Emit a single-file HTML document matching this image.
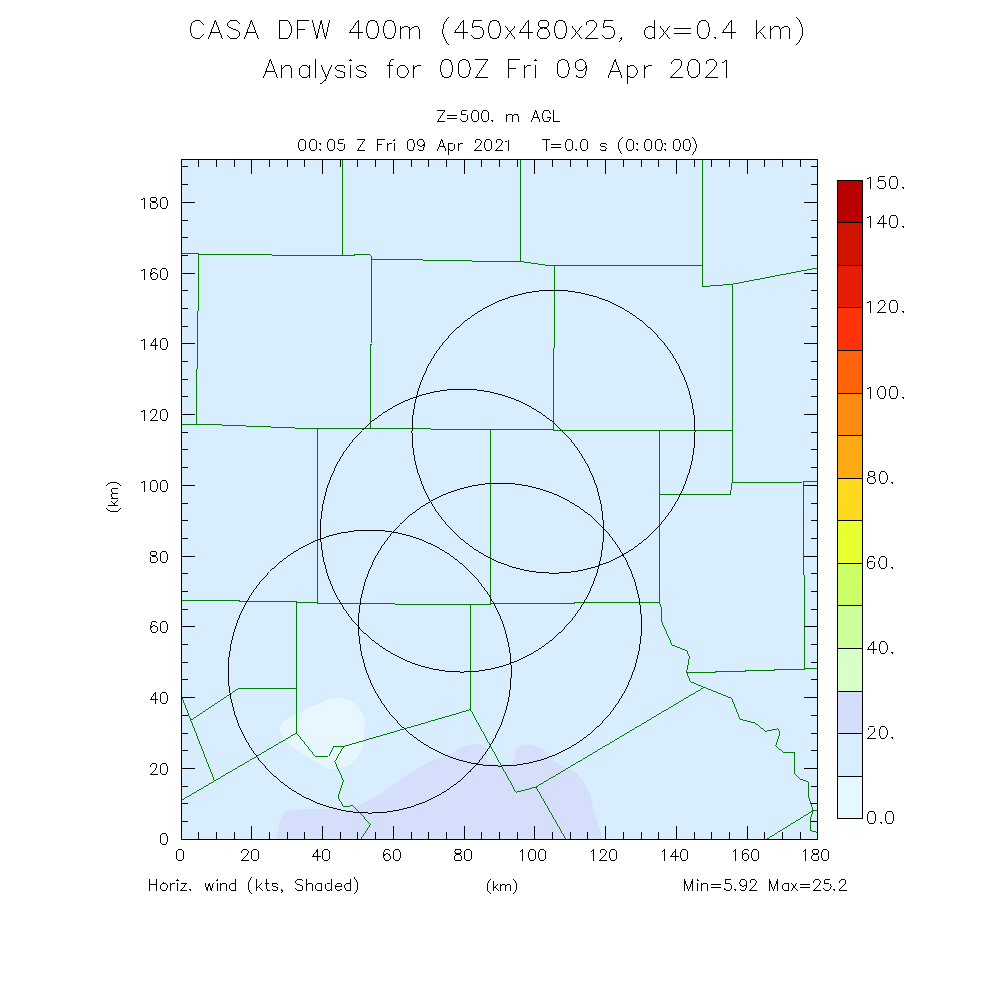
<!DOCTYPE html>
<html><head><meta charset="utf-8"><title>CASA DFW 400m</title>
<style>html,body{margin:0;padding:0;background:#fff;font-family:"Liberation Sans",sans-serif}svg{display:block}</style></head>
<body>
<svg width="1000" height="1000" viewBox="0 0 1000 1000" shape-rendering="crispEdges">
<rect width="1000" height="1000" fill="#fff"/>
<defs><clipPath id="pc"><rect x="182" y="160" width="635" height="679"/></clipPath></defs>
<rect x="182" y="160" width="635" height="679" fill="#D8EEFF"/>
<g clip-path="url(#pc)">
<path d="M276 840 L280 820 L285 811 L314 808.5 L350 810 L379 795 L404 777 L429 762 L450.8 753.4 L463.4 747 L476 743.5 L485 745.3 L487 751.6 L486.4 758.8 L488.6 763.3 L500 765.5 L512 764 L514.7 757 L515.6 749.8 L521 745.3 L530 744.4 L540.8 748 L549.8 754.3 L555 761.5 L566 767.8 L576.8 773.2 L584 782 L589.4 793 L593 807.4 L598.4 825.4 L603 840Z" fill="#D5DFFC"/>
<path d="M279.2 729.2 L282.2 722 L296 714.2 L314 705.8 L327.2 699.2 L338 697.8 L348.8 699.2 L358.4 706.4 L363.8 716 L365 728 L363.2 743.6 L359.6 754.4 L351.2 764 L339.2 768.8 L329.6 769.4 L320 764 L308 756.8 L296 749.6 L287.6 742.4 L281.6 735.2Z" fill="#E6F7FF"/>
<path d="M342.5 159.55 L342.5 255.45M181.05 253.5 L199 253.5 L199 254.5 L272 254.5 L272 255.5 L354 255.5 L354 254.5 L370 254.5 L371.5 256 L372 259.5 L423 259.5 L423 260.5 L472 260.5 L472 261.5 L520.6 261.5 L549 265.5 L702.85 265.5M198.6 253.35 L198.6 310 L197.6 311 L197.6 368 L196.6 369 L196.6 424.85M371.6 258.55 L371.6 343 L370.5 344 L370.5 428.85M520.5 159.55 L520.5 261.85M554.5 264.95 L554.5 347 L553.5 348 L553.5 429.85M702.5 159.55 L702.5 286.5 L732.4 284.2 L817.44 267.92M732.5 283.55 L732.5 482.85M181.05 424.5 L222 424.5 L222 425.5 L246 425.5 L246 426.5 L271 426.5 L271 427.5 L295 427.5 L295 428.5 L431 428.5 L431 429.5 L553.6 429.5 L553.6 430.5 L732.85 430.5M317.5 427.95 L317.5 602.85M490.5 428.95 L490.5 603.85M659.5 429.95 L659.5 602.85M731.95 482.5 L802.4 482.5 L803 481.5 L817.45 481.5M732.7 482.07 L731.5 483.4 L731.5 489.4 L730.5 490.4 L730.5 494 L729.6 494.5 L659.15 494.5M803.5 480.95 L803.5 575 L804.5 576 L804.5 669.45M181.05 600.5 L239.6 600.5 L239.6 601.5 L296.6 601.5 L296.6 602.5 L317.4 602.5 L317.4 603.5 L395 603.5 L395 604.5 L490 604.5 L490 603.5 L574 603.5 L574 602.5 L660.05 602.5M296.5 600.95 L296.5 733.45M297.05 688.5 L238.4 688.5 L190.63 720.25M181.84 697.18 L214.16 780.02M296.99 732.77 L181.61 800.23M296.32 732.65 L315.2 756.3 L328.4 756.3 L333.4 746.5 L343.6 746.5 L470.83 709.57M343.83 746.11 L334.8 761.6 L343.5 781 L338 797 L343.6 807 L353 805.6 L370.4 824.4 L360.76 839.38M470.5 603.95 L470.5 709.7 L516 792.4 L536 787 L704.39 687.17M535.78 786.61 L565.82 839.39M659.46 601.97 L661.4 608 L661.4 621 L672 645 L687 651 L689.4 657.4 L686.6 672 L690.4 681.6 L704 687.4 L731.6 698.4 L740 719.4 L755 723 L765.6 731.4 L777.6 728.8 L780 732.4 L775.6 746.2 L783.6 752.4 L795 752.2 L794.6 773.4 L800 779 L808.4 782 L808.4 796 L813 810 L817.44 811.11M686.15 672.5 L715 672.5 L715 671.5 L745 671.5 L745 670.5 L774 670.5 L774 669.5 L804 669.5 L804 668.5 L817.45 668.5M813.98 810.16 L766.62 839.24M813.12 810.07 L810 821 L810.4 830.4 L817.43 832.53" fill="none" stroke="#007800" stroke-width="0.99"/>
<ellipse cx="553.5" cy="431.7" rx="141.54" ry="141.51" fill="none" stroke="#000" stroke-width="0.99"/>
<ellipse cx="462" cy="530.6" rx="141.54" ry="141.51" fill="none" stroke="#000" stroke-width="0.99"/>
<ellipse cx="500" cy="624.6" rx="141.54" ry="141.51" fill="none" stroke="#000" stroke-width="0.99"/>
<ellipse cx="369.8" cy="671.6" rx="141.54" ry="141.51" fill="none" stroke="#000" stroke-width="0.99"/>
</g>
<g fill="#000">
<rect x="181" y="159" width="637" height="1"/><rect x="181" y="839" width="637" height="1"/><rect x="181" y="159" width="1" height="681"/><rect x="817" y="159" width="1" height="681"/>
<rect x="198" y="160" width="1" height="7"/><rect x="198" y="832" width="1" height="7"/><rect x="216" y="160" width="1" height="7"/><rect x="216" y="832" width="1" height="7"/><rect x="234" y="160" width="1" height="7"/><rect x="234" y="832" width="1" height="7"/><rect x="251" y="160" width="1" height="14"/><rect x="251" y="826" width="1" height="13"/><rect x="269" y="160" width="1" height="7"/><rect x="269" y="832" width="1" height="7"/><rect x="287" y="160" width="1" height="7"/><rect x="287" y="832" width="1" height="7"/><rect x="304" y="160" width="1" height="7"/><rect x="304" y="832" width="1" height="7"/><rect x="322" y="160" width="1" height="14"/><rect x="322" y="826" width="1" height="13"/><rect x="340" y="160" width="1" height="7"/><rect x="340" y="832" width="1" height="7"/><rect x="357" y="160" width="1" height="7"/><rect x="357" y="832" width="1" height="7"/><rect x="375" y="160" width="1" height="7"/><rect x="375" y="832" width="1" height="7"/><rect x="393" y="160" width="1" height="14"/><rect x="393" y="826" width="1" height="13"/><rect x="411" y="160" width="1" height="7"/><rect x="411" y="832" width="1" height="7"/><rect x="428" y="160" width="1" height="7"/><rect x="428" y="832" width="1" height="7"/><rect x="446" y="160" width="1" height="7"/><rect x="446" y="832" width="1" height="7"/><rect x="464" y="160" width="1" height="14"/><rect x="464" y="826" width="1" height="13"/><rect x="481" y="160" width="1" height="7"/><rect x="481" y="832" width="1" height="7"/><rect x="499" y="160" width="1" height="7"/><rect x="499" y="832" width="1" height="7"/><rect x="517" y="160" width="1" height="7"/><rect x="517" y="832" width="1" height="7"/><rect x="534" y="160" width="1" height="14"/><rect x="534" y="826" width="1" height="13"/><rect x="552" y="160" width="1" height="7"/><rect x="552" y="832" width="1" height="7"/><rect x="570" y="160" width="1" height="7"/><rect x="570" y="832" width="1" height="7"/><rect x="587" y="160" width="1" height="7"/><rect x="587" y="832" width="1" height="7"/><rect x="605" y="160" width="1" height="14"/><rect x="605" y="826" width="1" height="13"/><rect x="623" y="160" width="1" height="7"/><rect x="623" y="832" width="1" height="7"/><rect x="641" y="160" width="1" height="7"/><rect x="641" y="832" width="1" height="7"/><rect x="658" y="160" width="1" height="7"/><rect x="658" y="832" width="1" height="7"/><rect x="676" y="160" width="1" height="14"/><rect x="676" y="826" width="1" height="13"/><rect x="694" y="160" width="1" height="7"/><rect x="694" y="832" width="1" height="7"/><rect x="711" y="160" width="1" height="7"/><rect x="711" y="832" width="1" height="7"/><rect x="729" y="160" width="1" height="7"/><rect x="729" y="832" width="1" height="7"/><rect x="747" y="160" width="1" height="14"/><rect x="747" y="826" width="1" height="13"/><rect x="764" y="160" width="1" height="7"/><rect x="764" y="832" width="1" height="7"/><rect x="782" y="160" width="1" height="7"/><rect x="782" y="832" width="1" height="7"/><rect x="800" y="160" width="1" height="7"/><rect x="800" y="832" width="1" height="7"/><rect x="182" y="821" width="6" height="1"/><rect x="811" y="821" width="6" height="1"/><rect x="182" y="803" width="6" height="1"/><rect x="811" y="803" width="6" height="1"/><rect x="182" y="786" width="6" height="1"/><rect x="811" y="786" width="6" height="1"/><rect x="182" y="768" width="13" height="1"/><rect x="804" y="768" width="13" height="1"/><rect x="182" y="750" width="6" height="1"/><rect x="811" y="750" width="6" height="1"/><rect x="182" y="733" width="6" height="1"/><rect x="811" y="733" width="6" height="1"/><rect x="182" y="715" width="6" height="1"/><rect x="811" y="715" width="6" height="1"/><rect x="182" y="697" width="13" height="1"/><rect x="804" y="697" width="13" height="1"/><rect x="182" y="679" width="6" height="1"/><rect x="811" y="679" width="6" height="1"/><rect x="182" y="662" width="6" height="1"/><rect x="811" y="662" width="6" height="1"/><rect x="182" y="644" width="6" height="1"/><rect x="811" y="644" width="6" height="1"/><rect x="182" y="626" width="13" height="1"/><rect x="804" y="626" width="13" height="1"/><rect x="182" y="609" width="6" height="1"/><rect x="811" y="609" width="6" height="1"/><rect x="182" y="591" width="6" height="1"/><rect x="811" y="591" width="6" height="1"/><rect x="182" y="573" width="6" height="1"/><rect x="811" y="573" width="6" height="1"/><rect x="182" y="556" width="13" height="1"/><rect x="804" y="556" width="13" height="1"/><rect x="182" y="538" width="6" height="1"/><rect x="811" y="538" width="6" height="1"/><rect x="182" y="520" width="6" height="1"/><rect x="811" y="520" width="6" height="1"/><rect x="182" y="503" width="6" height="1"/><rect x="811" y="503" width="6" height="1"/><rect x="182" y="485" width="13" height="1"/><rect x="804" y="485" width="13" height="1"/><rect x="182" y="467" width="6" height="1"/><rect x="811" y="467" width="6" height="1"/><rect x="182" y="449" width="6" height="1"/><rect x="811" y="449" width="6" height="1"/><rect x="182" y="432" width="6" height="1"/><rect x="811" y="432" width="6" height="1"/><rect x="182" y="414" width="13" height="1"/><rect x="804" y="414" width="13" height="1"/><rect x="182" y="396" width="6" height="1"/><rect x="811" y="396" width="6" height="1"/><rect x="182" y="379" width="6" height="1"/><rect x="811" y="379" width="6" height="1"/><rect x="182" y="361" width="6" height="1"/><rect x="811" y="361" width="6" height="1"/><rect x="182" y="343" width="13" height="1"/><rect x="804" y="343" width="13" height="1"/><rect x="182" y="326" width="6" height="1"/><rect x="811" y="326" width="6" height="1"/><rect x="182" y="308" width="6" height="1"/><rect x="811" y="308" width="6" height="1"/><rect x="182" y="290" width="6" height="1"/><rect x="811" y="290" width="6" height="1"/><rect x="182" y="273" width="13" height="1"/><rect x="804" y="273" width="13" height="1"/><rect x="182" y="255" width="6" height="1"/><rect x="811" y="255" width="6" height="1"/><rect x="182" y="237" width="6" height="1"/><rect x="811" y="237" width="6" height="1"/><rect x="182" y="220" width="6" height="1"/><rect x="811" y="220" width="6" height="1"/><rect x="182" y="202" width="13" height="1"/><rect x="804" y="202" width="13" height="1"/><rect x="182" y="184" width="6" height="1"/><rect x="811" y="184" width="6" height="1"/><rect x="182" y="166" width="6" height="1"/><rect x="811" y="166" width="6" height="1"/>
</g>
<rect x="838" y="181" width="24" height="41" fill="#B80000"/><rect x="838" y="223" width="24" height="42" fill="#D01400"/><rect x="838" y="266" width="24" height="41" fill="#E61E08"/><rect x="838" y="308" width="24" height="42" fill="#FF320A"/><rect x="838" y="351" width="24" height="42" fill="#FF640A"/><rect x="838" y="394" width="24" height="41" fill="#FF8C10"/><rect x="838" y="436" width="24" height="42" fill="#FFAA14"/><rect x="838" y="479" width="24" height="41" fill="#FFD820"/><rect x="838" y="521" width="24" height="42" fill="#E8FF32"/><rect x="838" y="564" width="24" height="41" fill="#CCFF66"/><rect x="838" y="606" width="24" height="42" fill="#CCFF99"/><rect x="838" y="649" width="24" height="42" fill="#D8FFC8"/><rect x="838" y="692" width="24" height="41" fill="#D4DEFC"/><rect x="838" y="734" width="24" height="42" fill="#D8EEFF"/><rect x="838" y="777" width="24" height="41" fill="#E6F8FF"/>
<g fill="#000"><rect x="837" y="180" width="26" height="1"/><rect x="837" y="222" width="26" height="1"/><rect x="837" y="265" width="26" height="1"/><rect x="837" y="307" width="26" height="1"/><rect x="837" y="350" width="26" height="1"/><rect x="837" y="393" width="26" height="1"/><rect x="837" y="435" width="26" height="1"/><rect x="837" y="478" width="26" height="1"/><rect x="837" y="520" width="26" height="1"/><rect x="837" y="563" width="26" height="1"/><rect x="837" y="605" width="26" height="1"/><rect x="837" y="648" width="26" height="1"/><rect x="837" y="691" width="26" height="1"/><rect x="837" y="733" width="26" height="1"/><rect x="837" y="776" width="26" height="1"/><rect x="837" y="818" width="26" height="1"/><rect x="837" y="180" width="1" height="639"/><rect x="862" y="180" width="1" height="639"/></g>
<path d="M203.56 25.19 L202.5 23.07 L200.79 21.36 L199.07 20.5 L195.64 20.5 L193.93 21.36 L192.21 23.07 L191.36 24.79 L190.5 27.36 L190.5 31.64 L191.36 34.21 L192.21 35.93 L193.93 37.64 L195.64 38.5 L199.07 38.5 L200.79 37.64 L202.5 35.93 L203.56 33.81M215.52 20.08 L208.34 38.92M215.2 20.08 L222.37 38.92M210.62 32.5 L220.09 32.5M239.82 23.39 L237.79 21.36 L235.21 20.5 L231.79 20.5 L229.21 21.36 L227.5 23.07 L227.5 24.79 L228.36 26.5 L229.21 27.36 L230.93 28.21 L236.07 29.93 L237.79 30.79 L238.64 31.64 L239.5 33.36 L239.5 35.93 L237.79 37.64 L235.21 38.5 L231.79 38.5 L229.21 37.64 L227.18 35.61M251.52 20.08 L244.34 38.92M251.2 20.08 L258.37 38.92M246.62 32.5 L256.09 32.5M279.5 20.05 L279.5 38.95M279.05 20.5 L285.5 20.5 L288.07 21.36 L289.79 23.07 L290.64 24.79 L291.5 27.36 L291.5 31.64 L290.64 34.21 L289.79 35.93 L288.07 37.64 L285.5 38.5 L279.05 38.5M297.5 20.05 L297.5 38.95M297.05 20.5 L309.09 20.5M297.05 29.07 L304.81 29.07M312.4 20.06 L316.89 38.94M321.18 20.06 L316.68 38.94M320.97 20.06 L325.46 38.94M329.75 20.06 L325.25 38.94M358.33 20.13 L349.5 32.5 L362.81 32.5M358.07 20.05 L358.07 38.95M372.07 20.36 L369.07 21.36 L367.36 23.93 L366.5 28.21 L366.5 30.79 L367.36 35.07 L369.07 37.64 L371.64 38.5 L373.36 38.5 L375.93 37.64 L377.64 35.07 L378.5 30.79 L378.5 28.21 L377.64 23.93 L375.93 21.36 L373.36 20.5 L371.19 20.5M389.07 20.36 L386.07 21.36 L384.36 23.93 L383.5 28.21 L383.5 30.79 L384.36 35.07 L386.07 37.64 L388.64 38.5 L390.36 38.5 L392.93 37.64 L394.64 35.07 L395.5 30.79 L395.5 28.21 L394.64 23.93 L392.93 21.36 L390.36 20.5 L388.19 20.5M400.5 26.05 L400.5 38.95M400.18 30.25 L403.07 27.36 L404.79 26.5 L407.36 26.5 L409.07 27.36 L409.93 29.93 L409.93 38.95M409.61 30.25 L412.5 27.36 L414.21 26.5 L416.79 26.5 L418.5 27.36 L419.36 29.93 L419.36 38.95M449.22 16.75 L447.19 18.79 L445.47 21.36 L443.76 24.79 L442.9 29.07 L442.9 32.5 L443.76 36.79 L445.47 40.21 L447.19 42.79 L449.22 44.82M463.33 20.13 L454.5 32.5 L467.81 32.5M463.07 20.05 L463.07 38.95M482.24 20.5 L473.21 20.5 L472.36 28.21 L473.21 27.36 L475.79 26.5 L478.36 26.5 L480.93 27.36 L482.64 29.07 L483.5 31.64 L483.5 33.36 L482.64 35.93 L480.93 37.64 L478.36 38.5 L475.79 38.5 L473.21 37.64 L472.36 36.79 L471.3 34.67M494.07 20.36 L491.07 21.36 L489.36 23.93 L488.5 28.21 L488.5 30.79 L489.36 35.07 L491.07 37.64 L493.64 38.5 L495.36 38.5 L497.93 37.64 L499.64 35.07 L500.5 30.79 L500.5 28.21 L499.64 23.93 L497.93 21.36 L495.36 20.5 L493.19 20.5M505.22 26.15 L515.21 38.85M515.21 26.15 L505.22 38.85M528.33 20.13 L519.5 32.5 L532.81 32.5M528.07 20.05 L528.07 38.95M542.21 20.36 L539.21 21.36 L538.36 23.07 L538.36 24.79 L539.21 26.5 L540.93 27.36 L544.36 28.21 L546.93 29.07 L548.64 30.79 L549.5 32.5 L549.5 35.07 L548.64 36.79 L547.79 37.64 L545.21 38.5 L541.79 38.5 L539.21 37.64 L538.36 36.79 L537.5 35.07 L537.5 32.5 L538.36 30.79 L540.07 29.07 L542.64 28.21 L546.07 27.36 L547.79 26.5 L548.64 24.79 L548.64 23.07 L547.79 21.36 L545.21 20.5 L541.34 20.5M560.07 20.36 L557.07 21.36 L555.36 23.93 L554.5 28.21 L554.5 30.79 L555.36 35.07 L557.07 37.64 L559.64 38.5 L561.36 38.5 L563.93 37.64 L565.64 35.07 L566.5 30.79 L566.5 28.21 L565.64 23.93 L563.93 21.36 L561.36 20.5 L559.19 20.5M571.72 26.15 L581.71 38.85M581.71 26.15 L571.72 38.85M586.16 25.24 L586.16 23.93 L587.01 22.21 L587.87 21.36 L589.59 20.5 L593.01 20.5 L594.73 21.36 L595.59 22.21 L596.44 23.93 L596.44 25.64 L595.59 27.36 L593.87 29.93 L585.3 38.5 L597.75 38.5M613.24 20.5 L604.21 20.5 L603.36 28.21 L604.21 27.36 L606.79 26.5 L609.36 26.5 L611.93 27.36 L613.64 29.07 L614.5 31.64 L614.5 33.36 L613.64 35.93 L611.93 37.64 L609.36 38.5 L606.79 38.5 L604.21 37.64 L603.36 36.79 L602.3 34.67M621.53 37.32 L620.36 38.5 L619.5 37.64 L620.36 36.79 L621.21 37.64 L621.21 39.36 L620.36 41.07 L619.18 42.25M654.79 20.05 L654.79 38.95M655.1 29.39 L653.07 27.36 L651.36 26.5 L648.79 26.5 L647.07 27.36 L645.36 29.07 L644.5 31.64 L644.5 33.36 L645.36 35.93 L647.07 37.64 L648.79 38.5 L651.36 38.5 L653.07 37.64 L655.1 35.61M659.72 26.15 L669.71 38.85M669.71 26.15 L659.72 38.85M674.45 28.21 L690.78 28.21M674.45 33.36 L690.78 33.36M702.87 20.36 L699.87 21.36 L698.16 23.93 L697.3 28.21 L697.3 30.79 L698.16 35.07 L699.87 37.64 L702.44 38.5 L704.16 38.5 L706.73 37.64 L708.44 35.07 L709.3 30.79 L709.3 28.21 L708.44 23.93 L706.73 21.36 L704.16 20.5 L701.99 20.5M731.33 20.13 L722.5 32.5 L735.81 32.5M731.07 20.05 L731.07 38.95M756.2 20.05 L756.2 38.95M765.09 26.18 L755.88 35.39M759.33 31.3 L765.92 38.84M770.9 26.05 L770.9 38.95M770.58 30.25 L773.47 27.36 L775.19 26.5 L777.76 26.5 L779.47 27.36 L780.33 29.93 L780.33 38.95M780.01 30.25 L782.9 27.36 L784.61 26.5 L787.19 26.5 L788.9 27.36 L789.76 29.93 L789.76 38.95M796.18 16.75 L798.21 18.79 L799.93 21.36 L801.64 24.79 L802.5 29.07 L802.5 32.5 L801.64 36.79 L799.93 40.21 L798.21 42.79 L796.18 44.82M270.52 59.08 L263.34 77.92M270.2 59.08 L277.37 77.92M265.62 71.5 L275.09 71.5M281.9 65.05 L281.9 77.95M281.58 69.25 L284.47 66.36 L286.19 65.5 L288.76 65.5 L290.47 66.36 L291.33 68.93 L291.33 77.95M309.29 65.05 L309.29 77.95M309.6 68.39 L307.57 66.36 L305.86 65.5 L303.29 65.5 L301.57 66.36 L299.86 68.07 L299 70.64 L299 72.36 L299.86 74.93 L301.57 76.64 L303.29 77.5 L305.86 77.5 L307.57 76.64 L309.6 74.61M315 59.05 L315 77.95M320.98 65.09 L326.48 77.91M331.62 65.09 L326.3 77.5 L324.59 80.93 L322.87 82.64 L321.16 83.5 L319.85 83.5M345.13 68.47 L344.07 66.36 L341.5 65.5 L338.93 65.5 L336.36 66.36 L335.5 68.07 L336.36 69.79 L338.07 70.64 L342.36 71.5 L344.07 72.36 L344.93 74.07 L344.93 74.93 L344.07 76.64 L341.5 77.5 L338.93 77.5 L336.36 76.64 L335.3 74.53M348.94 60.36 L352.06 60.36M350.5 58.88 L350.5 60.81M350.5 65.05 L350.5 77.95M366.23 68.47 L365.17 66.36 L362.6 65.5 L360.03 65.5 L357.46 66.36 L356.6 68.07 L357.46 69.79 L359.17 70.64 L363.46 71.5 L365.17 72.36 L366.03 74.07 L366.03 74.93 L365.17 76.64 L362.6 77.5 L360.03 77.5 L357.46 76.64 L356.4 74.53M394.31 59.5 L392.14 59.5 L390.43 60.36 L389.57 62.93 L389.57 77.95M386.55 65.5 L393.45 65.5M401.79 65.3 L399.67 66.36 L397.96 68.07 L397.1 70.64 L397.1 72.36 L397.96 74.93 L399.67 76.64 L401.39 77.5 L403.96 77.5 L405.67 76.64 L407.39 74.93 L408.24 72.36 L408.24 70.64 L407.39 68.07 L405.67 66.36 L403.96 65.5 L400.94 65.5M413.3 65.05 L413.3 77.95M413.16 71.07 L414.16 68.07 L415.87 66.36 L417.59 65.5 L420.61 65.5M446.07 59.36 L443.07 60.36 L441.36 62.93 L440.5 67.21 L440.5 69.79 L441.36 74.07 L443.07 76.64 L445.64 77.5 L447.36 77.5 L449.93 76.64 L451.64 74.07 L452.5 69.79 L452.5 67.21 L451.64 62.93 L449.93 60.36 L447.36 59.5 L445.19 59.5M463.67 59.36 L460.67 60.36 L458.96 62.93 L458.1 67.21 L458.1 69.79 L458.96 74.07 L460.67 76.64 L463.24 77.5 L464.96 77.5 L467.53 76.64 L469.24 74.07 L470.1 69.79 L470.1 67.21 L469.24 62.93 L467.53 60.36 L464.96 59.5 L462.79 59.5M487.95 59.13 L475.45 77.87M475.25 59.5 L488.15 59.5M475.25 77.5 L488.15 77.5M508.5 59.05 L508.5 77.95M508.05 59.5 L520.09 59.5M508.05 68.07 L515.81 68.07M524 65.05 L524 77.95M523.86 71.07 L524.86 68.07 L526.57 66.36 L528.29 65.5 L531.31 65.5M533.94 60.36 L537.06 60.36M535.5 58.88 L535.5 60.81M535.5 65.05 L535.5 77.95M562.67 59.36 L559.67 60.36 L557.96 62.93 L557.1 67.21 L557.1 69.79 L557.96 74.07 L559.67 76.64 L562.24 77.5 L563.96 77.5 L566.53 76.64 L568.24 74.07 L569.1 69.79 L569.1 67.21 L568.24 62.93 L566.53 60.36 L563.96 59.5 L561.79 59.5M586.39 65.07 L585.39 68.07 L583.67 69.79 L581.1 70.64 L580.24 70.64 L577.67 69.79 L575.96 68.07 L575.1 65.5 L575.1 64.64 L575.96 62.07 L577.67 60.36 L580.24 59.5 L581.1 59.5 L583.67 60.36 L585.39 62.07 L586.24 65.5 L586.24 69.79 L585.39 74.07 L583.67 76.64 L581.1 77.5 L579.39 77.5 L576.81 76.64 L575.76 74.53M615.22 59.08 L608.04 77.92M614.9 59.08 L622.07 77.92M610.32 71.5 L619.79 71.5M627.1 65.05 L627.1 83.95M626.78 68.39 L628.81 66.36 L630.53 65.5 L633.1 65.5 L634.81 66.36 L636.53 68.07 L637.39 70.64 L637.39 72.36 L636.53 74.93 L634.81 76.64 L633.1 77.5 L630.53 77.5 L628.81 76.64 L626.78 74.61M644.4 65.05 L644.4 77.95M644.26 71.07 L645.26 68.07 L646.97 66.36 L648.69 65.5 L651.71 65.5M671.66 64.24 L671.66 62.93 L672.51 61.21 L673.37 60.36 L675.09 59.5 L678.51 59.5 L680.23 60.36 L681.09 61.21 L681.94 62.93 L681.94 64.64 L681.09 66.36 L679.37 68.93 L670.8 77.5 L683.25 77.5M693.37 59.36 L690.37 60.36 L688.66 62.93 L687.8 67.21 L687.8 69.79 L688.66 74.07 L690.37 76.64 L692.94 77.5 L694.66 77.5 L697.23 76.64 L698.94 74.07 L699.8 69.79 L699.8 67.21 L698.94 62.93 L697.23 60.36 L694.66 59.5 L692.49 59.5M706.16 64.24 L706.16 62.93 L707.01 61.21 L707.87 60.36 L709.59 59.5 L713.01 59.5 L714.73 60.36 L715.59 61.21 L716.44 62.93 L716.44 64.64 L715.59 66.36 L713.87 68.93 L705.3 77.5 L717.75 77.5M721.7 63.13 L723.81 62.07 L726.39 59.5 L726.39 77.95M445.08 110.13 L437.25 121.87M437.05 110.5 L445.28 110.5M437.05 121.5 L445.28 121.5M447.05 115.21 L457.38 115.21M447.05 118.36 L457.38 118.36M467.24 110.5 L461.55 110.5 L461.02 115.21 L461.55 114.69 L463.12 114.17 L464.69 114.17 L466.26 114.69 L467.31 115.74 L467.83 117.31 L467.83 118.36 L467.31 119.93 L466.26 120.98 L464.69 121.5 L463.12 121.5 L461.55 120.98 L461.02 120.45 L460.3 119M475.07 110.36 L473.07 111.02 L472.02 112.6 L471.5 115.21 L471.5 116.79 L472.02 119.4 L473.07 120.98 L474.64 121.5 L475.69 121.5 L477.26 120.98 L478.31 119.4 L478.83 116.79 L478.83 115.21 L478.31 112.6 L477.26 111.02 L475.69 110.5 L474.19 110.5M485.07 110.36 L483.07 111.02 L482.02 112.6 L481.5 115.21 L481.5 116.79 L482.02 119.4 L483.07 120.98 L484.64 121.5 L485.69 121.5 L487.26 120.98 L488.31 119.4 L488.83 116.79 L488.83 115.21 L488.31 112.6 L487.26 111.02 L485.69 110.5 L484.19 110.5M506.5 113.72 L506.5 121.95M506.18 116.58 L508.07 114.69 L509.12 114.17 L510.69 114.17 L511.74 114.69 L512.26 116.26 L512.26 121.95M511.94 116.58 L513.83 114.69 L514.88 114.17 L516.45 114.17 L517.5 114.69 L518.02 116.26 L518.02 121.95M535.85 110.08 L531.34 121.92M535.53 110.08 L540.04 121.92M532.62 117.83 L538.76 117.83M550.36 113.52 L549.63 112.07 L548.59 111.02 L547.54 110.5 L545.44 110.5 L544.4 111.02 L543.35 112.07 L542.82 113.12 L542.3 114.69 L542.3 117.31 L542.82 118.88 L543.35 119.93 L544.4 120.98 L545.44 121.5 L547.54 121.5 L548.59 120.98 L549.63 119.93 L550.16 118.88 L550.16 116.86M547.09 117.31 L550.61 117.31M553.5 110.05 L553.5 121.95M553.05 121.5 L560.24 121.5M302.07 139.36 L300.07 140.02 L299.02 141.6 L298.5 144.21 L298.5 145.79 L299.02 148.4 L300.07 149.98 L301.64 150.5 L302.69 150.5 L304.26 149.98 L305.31 148.4 L305.83 145.79 L305.83 144.21 L305.31 141.6 L304.26 140.02 L302.69 139.5 L301.19 139.5M313.07 139.36 L311.07 140.02 L310.02 141.6 L309.5 144.21 L309.5 145.79 L310.02 148.4 L311.07 149.98 L312.64 150.5 L313.69 150.5 L315.26 149.98 L316.31 148.4 L316.83 145.79 L316.83 144.21 L316.31 141.6 L315.26 140.02 L313.69 139.5 L312.19 139.5M331.07 139.36 L329.07 140.02 L328.02 141.6 L327.5 144.21 L327.5 145.79 L328.02 148.4 L329.07 149.98 L330.64 150.5 L331.69 150.5 L333.26 149.98 L334.31 148.4 L334.83 145.79 L334.83 144.21 L334.31 141.6 L333.26 140.02 L331.69 139.5 L330.19 139.5M344.24 139.5 L338.55 139.5 L338.02 144.21 L338.55 143.69 L340.12 143.17 L341.69 143.17 L343.26 143.69 L344.31 144.74 L344.83 146.31 L344.83 147.36 L344.31 148.93 L343.26 149.98 L341.69 150.5 L340.12 150.5 L338.55 149.98 L338.02 149.45 L337.3 148M365.08 139.13 L357.25 150.87M357.05 139.5 L365.28 139.5M357.05 150.5 L365.28 150.5M377.5 139.05 L377.5 150.95M377.05 139.5 L384.76 139.5M377.05 144.74 L382.14 144.74M387.5 142.72 L387.5 150.95M387.36 146.74 L388.02 144.74 L389.07 143.69 L390.12 143.17 L392.14 143.17M392.87 140.02 L395.13 140.02M394 138.95 L394 140.47M394 142.72 L394 150.95M410.57 139.36 L408.57 140.02 L407.52 141.6 L407 144.21 L407 145.79 L407.52 148.4 L408.57 149.98 L410.14 150.5 L411.19 150.5 L412.76 149.98 L413.81 148.4 L414.33 145.79 L414.33 144.21 L413.81 141.6 L412.76 140.02 L411.19 139.5 L409.69 139.5M424.45 142.74 L423.79 144.74 L422.74 145.79 L421.17 146.31 L420.64 146.31 L419.07 145.79 L418.02 144.74 L417.5 143.17 L417.5 142.64 L418.02 141.07 L419.07 140.02 L420.64 139.5 L421.17 139.5 L422.74 140.02 L423.79 141.07 L424.31 143.17 L424.31 145.79 L423.79 148.4 L422.74 149.98 L421.17 150.5 L420.12 150.5 L418.55 149.98 L417.82 148.53M441.85 139.08 L437.34 150.92M441.53 139.08 L446.04 150.92M438.62 146.83 L444.76 146.83M448.5 142.72 L448.5 154.62M448.18 145.06 L449.55 143.69 L450.6 143.17 L452.17 143.17 L453.21 143.69 L454.26 144.74 L454.79 146.31 L454.79 147.36 L454.26 148.93 L453.21 149.98 L452.17 150.5 L450.6 150.5 L449.55 149.98 L448.18 148.61M458.5 142.72 L458.5 150.95M458.36 146.74 L459.02 144.74 L460.07 143.69 L461.12 143.17 L463.14 143.17M475.02 142.57 L475.02 141.6 L475.55 140.55 L476.07 140.02 L477.12 139.5 L479.21 139.5 L480.26 140.02 L480.79 140.55 L481.31 141.6 L481.31 142.64 L480.79 143.69 L479.74 145.26 L474.5 150.5 L482.28 150.5M488.07 139.36 L486.07 140.02 L485.02 141.6 L484.5 144.21 L484.5 145.79 L485.02 148.4 L486.07 149.98 L487.64 150.5 L488.69 150.5 L490.26 149.98 L491.31 148.4 L491.83 145.79 L491.83 144.21 L491.31 141.6 L490.26 140.02 L488.69 139.5 L487.19 139.5M496.02 142.57 L496.02 141.6 L496.55 140.55 L497.07 140.02 L498.12 139.5 L500.21 139.5 L501.26 140.02 L501.79 140.55 L502.31 141.6 L502.31 142.64 L501.79 143.69 L500.74 145.26 L495.5 150.5 L503.28 150.5M505.1 141.8 L506.55 141.07 L508.12 139.5 L508.12 150.95M546.17 139.05 L546.17 150.95M542.05 139.5 L550.28 139.5M551.05 144.21 L561.38 144.21M551.05 147.36 L561.38 147.36M569.07 139.36 L567.07 140.02 L566.02 141.6 L565.5 144.21 L565.5 145.79 L566.02 148.4 L567.07 149.98 L568.64 150.5 L569.69 150.5 L571.26 149.98 L572.31 148.4 L572.83 145.79 L572.83 144.21 L572.31 141.6 L571.26 140.02 L569.69 139.5 L568.19 139.5M584.07 139.36 L582.07 140.02 L581.02 141.6 L580.5 144.21 L580.5 145.79 L581.02 148.4 L582.07 149.98 L583.64 150.5 L584.69 150.5 L586.26 149.98 L587.31 148.4 L587.83 145.79 L587.83 144.21 L587.31 141.6 L586.26 140.02 L584.69 139.5 L583.19 139.5M606.46 145.14 L605.74 143.69 L604.17 143.17 L602.6 143.17 L601.02 143.69 L600.5 144.74 L601.02 145.79 L602.07 146.31 L604.69 146.83 L605.74 147.36 L606.26 148.4 L606.26 148.93 L605.74 149.98 L604.17 150.5 L602.6 150.5 L601.02 149.98 L600.3 148.53M622.48 137.09 L621.12 138.45 L620.07 140.02 L619.02 142.12 L618.5 144.74 L618.5 146.83 L619.02 149.45 L620.07 151.55 L621.12 153.12 L622.48 154.48M630.07 139.36 L628.07 140.02 L627.02 141.6 L626.5 144.21 L626.5 145.79 L627.02 148.4 L628.07 149.98 L629.64 150.5 L630.69 150.5 L632.26 149.98 L633.31 148.4 L633.83 145.79 L633.83 144.21 L633.31 141.6 L632.26 140.02 L630.69 139.5 L629.19 139.5M648.07 139.36 L646.07 140.02 L645.02 141.6 L644.5 144.21 L644.5 145.79 L645.02 148.4 L646.07 149.98 L647.64 150.5 L648.69 150.5 L650.26 149.98 L651.31 148.4 L651.83 145.79 L651.83 144.21 L651.31 141.6 L650.26 140.02 L648.69 139.5 L647.19 139.5M658.57 139.36 L656.57 140.02 L655.52 141.6 L655 144.21 L655 145.79 L655.52 148.4 L656.57 149.98 L658.14 150.5 L659.19 150.5 L660.76 149.98 L661.81 148.4 L662.33 145.79 L662.33 144.21 L661.81 141.6 L660.76 140.02 L659.19 139.5 L657.69 139.5M676.57 139.36 L674.57 140.02 L673.52 141.6 L673 144.21 L673 145.79 L673.52 148.4 L674.57 149.98 L676.14 150.5 L677.19 150.5 L678.76 149.98 L679.81 148.4 L680.33 145.79 L680.33 144.21 L679.81 141.6 L678.76 140.02 L677.19 139.5 L675.69 139.5M686.57 139.36 L684.57 140.02 L683.52 141.6 L683 144.21 L683 145.79 L683.52 148.4 L684.57 149.98 L686.14 150.5 L687.19 150.5 L688.76 149.98 L689.81 148.4 L690.33 145.79 L690.33 144.21 L689.81 141.6 L688.76 140.02 L687.19 139.5 L685.69 139.5M692.18 137.09 L693.55 138.45 L694.6 140.02 L695.64 142.12 L696.17 144.74 L696.17 146.83 L695.64 149.45 L694.6 151.55 L693.55 153.12 L692.18 154.48M149.5 879.05 L149.5 890.95M156.83 879.05 L156.83 890.95M149.05 884.74 L157.28 884.74M163.52 882.97 L162.07 883.69 L161.02 884.74 L160.5 886.31 L160.5 887.36 L161.02 888.93 L162.07 889.98 L163.12 890.5 L164.69 890.5 L165.74 889.98 L166.79 888.93 L167.31 887.36 L167.31 886.31 L166.79 884.74 L165.74 883.69 L164.69 883.17 L162.67 883.17M170.5 882.72 L170.5 890.95M170.36 886.74 L171.02 884.74 L172.07 883.69 L173.12 883.17 L175.14 883.17M176.37 880.02 L178.63 880.02M177.5 878.95 L177.5 880.47M177.5 882.72 L177.5 890.95M187.04 882.81 L180.72 890.85M180.55 883.17 L187.21 883.17M180.55 890.5 L187.21 890.5M204.88 882.73 L207.22 890.93M209.31 882.73 L206.97 890.93M209.07 882.73 L211.41 890.93M213.5 882.73 L211.16 890.93M215.87 880.02 L218.13 880.02M217 878.95 L217 880.47M217 882.72 L217 890.95M220.5 882.72 L220.5 890.95M220.18 885.58 L222.07 883.69 L223.12 883.17 L224.69 883.17 L225.74 883.69 L226.26 885.26 L226.26 890.95M235.79 879.05 L235.79 890.95M236.1 885.06 L234.74 883.69 L233.69 883.17 L232.12 883.17 L231.07 883.69 L230.02 884.74 L229.5 886.31 L229.5 887.36 L230.02 888.93 L231.07 889.98 L232.12 890.5 L233.69 890.5 L234.74 889.98 L236.1 888.61M252.28 877.09 L250.92 878.45 L249.87 880.02 L248.82 882.12 L248.3 884.74 L248.3 886.83 L248.82 889.45 L249.87 891.55 L250.92 893.12 L252.28 894.48M256.7 879.05 L256.7 890.95M262.26 882.85 L256.38 888.72M258.5 885.97 L262.76 890.84M266.67 879.05 L266.67 888.4 L267.2 889.98 L268.24 890.5 L269.74 890.5M264.65 883.17 L269.22 883.17M277.86 885.14 L277.14 883.69 L275.57 883.17 L274 883.17 L272.42 883.69 L271.9 884.74 L272.42 885.79 L273.47 886.31 L276.09 886.83 L277.14 887.36 L277.66 888.4 L277.66 888.93 L277.14 889.98 L275.57 890.5 L274 890.5 L272.42 889.98 L271.7 888.53M282.67 889.66 L281.82 890.5 L281.3 889.98 L281.82 889.45 L282.35 889.98 L282.35 891.02 L281.82 892.07 L280.98 892.91M303.15 881.39 L301.79 880.02 L300.21 879.5 L298.12 879.5 L296.55 880.02 L295.5 881.07 L295.5 882.12 L296.02 883.17 L296.55 883.69 L297.6 884.21 L300.74 885.26 L301.79 885.79 L302.31 886.31 L302.83 887.36 L302.83 888.93 L301.79 889.98 L300.21 890.5 L298.12 890.5 L296.55 889.98 L295.18 888.61M306.5 879.05 L306.5 890.95M306.18 885.58 L308.07 883.69 L309.12 883.17 L310.69 883.17 L311.74 883.69 L312.26 885.26 L312.26 890.95M321.79 882.72 L321.79 890.95M322.1 885.06 L320.74 883.69 L319.69 883.17 L318.12 883.17 L317.07 883.69 L316.02 884.74 L315.5 886.31 L315.5 887.36 L316.02 888.93 L317.07 889.98 L318.12 890.5 L319.69 890.5 L320.74 889.98 L322.1 888.61M331.39 879.05 L331.39 890.95M331.7 885.06 L330.34 883.69 L329.29 883.17 L327.72 883.17 L326.67 883.69 L325.62 884.74 L325.1 886.31 L325.1 887.36 L325.62 888.93 L326.67 889.98 L327.72 890.5 L329.29 890.5 L330.34 889.98 L331.7 888.61M334.85 886.31 L341.59 886.31 L341.59 885.26 L341.06 884.21 L340.54 883.69 L339.49 883.17 L337.92 883.17 L336.87 883.69 L335.82 884.74 L335.3 886.31 L335.3 887.36 L335.82 888.93 L336.87 889.98 L337.92 890.5 L339.49 890.5 L340.54 889.98 L341.9 888.61M350.99 879.05 L350.99 890.95M351.3 885.06 L349.94 883.69 L348.89 883.17 L347.32 883.17 L346.27 883.69 L345.22 884.74 L344.7 886.31 L344.7 887.36 L345.22 888.93 L346.27 889.98 L347.32 890.5 L348.89 890.5 L349.94 889.98 L351.3 888.61M353.58 877.09 L354.95 878.45 L356 880.02 L357.04 882.12 L357.57 884.74 L357.57 886.83 L357.04 889.45 L356 891.55 L354.95 893.12 L353.58 894.48M684.35 879.05 L684.35 890.95M684.19 879.08 L688.7 890.92M692.89 879.08 L688.38 890.92M692.73 879.05 L692.73 890.95M696.77 880.02 L699.03 880.02M697.9 878.95 L697.9 880.47M697.9 882.72 L697.9 890.95M701.5 882.72 L701.5 890.95M701.18 885.58 L703.07 883.69 L704.12 883.17 L705.69 883.17 L706.74 883.69 L707.26 885.26 L707.26 890.95M710.9 884.21 L721.23 884.21M710.9 887.36 L721.23 887.36M731.14 879.5 L725.45 879.5 L724.92 884.21 L725.45 883.69 L727.02 883.17 L728.59 883.17 L730.16 883.69 L731.21 884.74 L731.73 886.31 L731.73 887.36 L731.21 888.93 L730.16 889.98 L728.59 890.5 L727.02 890.5 L725.45 889.98 L724.92 889.45 L724.2 888M746.65 882.74 L745.99 884.74 L744.94 885.79 L743.37 886.31 L742.84 886.31 L741.27 885.79 L740.22 884.74 L739.7 883.17 L739.7 882.64 L740.22 881.07 L741.27 880.02 L742.84 879.5 L743.37 879.5 L744.94 880.02 L745.99 881.07 L746.51 883.17 L746.51 885.79 L745.99 888.4 L744.94 889.98 L743.37 890.5 L742.32 890.5 L740.75 889.98 L740.02 888.53M750.12 882.57 L750.12 881.6 L750.65 880.55 L751.17 880.02 L752.22 879.5 L754.31 879.5 L755.36 880.02 L755.89 880.55 L756.41 881.6 L756.41 882.64 L755.89 883.69 L754.84 885.26 L749.6 890.5 L757.38 890.5M769.25 879.05 L769.25 890.95M769.09 879.08 L773.6 890.92M777.79 879.08 L773.28 890.92M777.63 879.05 L777.63 890.95M788.79 882.72 L788.79 890.95M789.1 885.06 L787.74 883.69 L786.69 883.17 L785.12 883.17 L784.07 883.69 L783.02 884.74 L782.5 886.31 L782.5 887.36 L783.02 888.93 L784.07 889.98 L785.12 890.5 L786.69 890.5 L787.74 889.98 L789.1 888.61M791.02 882.81 L797.34 890.85M797.34 882.81 L791.02 890.85M799.85 884.21 L810.18 884.21M799.85 887.36 L810.18 887.36M813.87 882.57 L813.87 881.6 L814.4 880.55 L814.92 880.02 L815.97 879.5 L818.06 879.5 L819.11 880.02 L819.64 880.55 L820.16 881.6 L820.16 882.64 L819.64 883.69 L818.59 885.26 L813.35 890.5 L821.13 890.5M830.44 879.5 L824.75 879.5 L824.22 884.21 L824.75 883.69 L826.32 883.17 L827.89 883.17 L829.46 883.69 L830.51 884.74 L831.03 886.31 L831.03 887.36 L830.51 888.93 L829.46 889.98 L827.89 890.5 L826.32 890.5 L824.75 889.98 L824.22 889.45 L823.5 888M839.52 882.57 L839.52 881.6 L840.05 880.55 L840.57 880.02 L841.62 879.5 L843.71 879.5 L844.76 880.02 L845.29 880.55 L845.81 881.6 L845.81 882.64 L845.29 883.69 L844.24 885.26 L839 890.5 L846.78 890.5M490.5 879.18 L489.3 880.38 L488.42 881.7 L487.54 883.46 L487.1 885.66 L487.1 887.42 L487.54 889.62 L488.42 891.38 L489.3 892.7 L490.5 893.9M493.5 880.81 L493.5 890.95M498.22 884.02 L493.18 889.06M494.96 886.64 L498.64 890.84M500.8 883.89 L500.8 890.95M500.48 886.42 L502.12 884.78 L503 884.34 L504.32 884.34 L505.2 884.78 L505.64 886.1 L505.64 890.95M505.32 886.42 L506.96 884.78 L507.84 884.34 L509.16 884.34 L510.04 884.78 L510.48 886.1 L510.48 890.95M513.18 879.18 L514.38 880.38 L515.26 881.7 L516.14 883.46 L516.58 885.66 L516.58 887.42 L516.14 889.62 L515.26 891.38 L514.38 892.7 L513.18 893.9M106.18 508.5 L107.38 509.7 L108.7 510.58 L110.46 511.46 L112.66 511.9 L114.42 511.9 L116.62 511.46 L118.38 510.58 L119.7 509.7 L120.9 508.5M107.81 505.5 L117.95 505.5M111.02 500.78 L116.06 505.82M113.64 504.04 L117.84 500.36M110.89 498.2 L117.95 498.2M113.42 498.52 L111.78 496.88 L111.34 496 L111.34 494.68 L111.78 493.8 L113.1 493.36 L117.95 493.36M113.42 493.68 L111.78 492.04 L111.34 491.16 L111.34 489.84 L111.78 488.96 L113.1 488.52 L117.95 488.52M106.18 485.82 L107.38 484.62 L108.7 483.74 L110.46 482.86 L112.66 482.42 L114.42 482.42 L116.62 482.86 L118.38 483.74 L119.7 484.62 L120.9 485.82M179.9 849.36 L177.9 850.02 L176.86 851.6 L176.33 854.21 L176.33 855.79 L176.86 858.4 L177.9 859.98 L179.48 860.5 L180.52 860.5 L182.1 859.98 L183.14 858.4 L183.67 855.79 L183.67 854.21 L183.14 851.6 L182.1 850.02 L180.52 849.5 L179.03 849.5M241.86 852.57 L241.86 851.6 L242.38 850.55 L242.91 850.02 L243.95 849.5 L246.05 849.5 L247.1 850.02 L247.62 850.55 L248.14 851.6 L248.14 852.64 L247.62 853.69 L246.57 855.26 L241.34 860.5 L249.12 860.5M254.9 849.36 L252.9 850.02 L251.86 851.6 L251.33 854.21 L251.33 855.79 L251.86 858.4 L252.9 859.98 L254.47 860.5 L255.52 860.5 L257.09 859.98 L258.14 858.4 L258.66 855.79 L258.66 854.21 L258.14 851.6 L257.09 850.02 L255.52 849.5 L254.02 849.5M317.83 849.13 L312.34 856.83 L320.64 856.83M317.57 849.05 L317.57 860.95M325.9 849.36 L323.9 850.02 L322.86 851.6 L322.33 854.21 L322.33 855.79 L322.86 858.4 L323.9 859.98 L325.47 860.5 L326.52 860.5 L328.09 859.98 L329.14 858.4 L329.66 855.79 L329.66 854.21 L329.14 851.6 L328.09 850.02 L326.52 849.5 L325.02 849.5M390.08 851.47 L389.36 850.02 L387.79 849.5 L386.74 849.5 L385.17 850.02 L384.12 851.6 L383.6 854.21 L383.6 856.83 L384.12 858.93 L385.17 859.98 L386.74 860.5 L387.26 860.5 L388.84 859.98 L389.88 858.93 L390.41 857.36 L390.41 856.83 L389.88 855.26 L388.84 854.21 L387.26 853.69 L386.74 853.69 L385.17 854.21 L384.12 855.26 L383.45 857.26M396.64 849.36 L394.64 850.02 L393.59 851.6 L393.07 854.21 L393.07 855.79 L393.59 858.4 L394.64 859.98 L396.21 860.5 L397.26 860.5 L398.83 859.98 L399.88 858.4 L400.4 855.79 L400.4 854.21 L399.88 851.6 L398.83 850.02 L397.26 849.5 L395.76 849.5M457.38 849.36 L455.38 850.02 L454.86 851.07 L454.86 852.12 L455.38 853.17 L456.43 853.69 L458.53 854.21 L460.1 854.74 L461.14 855.79 L461.67 856.83 L461.67 858.4 L461.14 859.45 L460.62 859.98 L459.05 860.5 L456.95 860.5 L455.38 859.98 L454.86 859.45 L454.34 858.4 L454.34 856.83 L454.86 855.79 L455.91 854.74 L457.48 854.21 L459.57 853.69 L460.62 853.17 L461.14 852.12 L461.14 851.07 L460.62 850.02 L459.05 849.5 L456.5 849.5M467.9 849.36 L465.9 850.02 L464.86 851.6 L464.33 854.21 L464.33 855.79 L464.86 858.4 L465.9 859.98 L467.47 860.5 L468.52 860.5 L470.09 859.98 L471.14 858.4 L471.66 855.79 L471.66 854.21 L471.14 851.6 L470.09 850.02 L468.52 849.5 L467.02 849.5M519.72 851.8 L521.17 851.07 L522.74 849.5 L522.74 860.95M532.12 849.36 L530.12 850.02 L529.07 851.6 L528.55 854.21 L528.55 855.79 L529.07 858.4 L530.12 859.98 L531.69 860.5 L532.74 860.5 L534.31 859.98 L535.36 858.4 L535.88 855.79 L535.88 854.21 L535.36 851.6 L534.31 850.02 L532.74 849.5 L531.24 849.5M542.11 849.36 L540.12 850.02 L539.07 851.6 L538.54 854.21 L538.54 855.79 L539.07 858.4 L540.12 859.98 L541.69 860.5 L542.73 860.5 L544.31 859.98 L545.35 858.4 L545.88 855.79 L545.88 854.21 L545.35 851.6 L544.31 850.02 L542.73 849.5 L541.24 849.5M590.72 851.8 L592.17 851.07 L593.74 849.5 L593.74 860.95M600.07 852.57 L600.07 851.6 L600.6 850.55 L601.12 850.02 L602.17 849.5 L604.26 849.5 L605.31 850.02 L605.83 850.55 L606.36 851.6 L606.36 852.64 L605.83 853.69 L604.79 855.26 L599.55 860.5 L607.33 860.5M613.11 849.36 L611.12 850.02 L610.07 851.6 L609.54 854.21 L609.54 855.79 L610.07 858.4 L611.12 859.98 L612.69 860.5 L613.73 860.5 L615.31 859.98 L616.35 858.4 L616.88 855.79 L616.88 854.21 L616.35 851.6 L615.31 850.02 L613.73 849.5 L612.24 849.5M661.72 851.8 L663.17 851.07 L664.74 849.5 L664.74 860.95M676.05 849.13 L670.55 856.83 L678.85 856.83M675.79 849.05 L675.79 860.95M684.11 849.36 L682.12 850.02 L681.07 851.6 L680.54 854.21 L680.54 855.79 L681.07 858.4 L682.12 859.98 L683.69 860.5 L684.73 860.5 L686.31 859.98 L687.35 858.4 L687.88 855.79 L687.88 854.21 L687.35 851.6 L686.31 850.02 L684.73 849.5 L683.24 849.5M732.72 851.8 L734.17 851.07 L735.74 849.5 L735.74 860.95M748.56 851.47 L747.83 850.02 L746.26 849.5 L745.21 849.5 L743.64 850.02 L742.6 851.6 L742.07 854.21 L742.07 856.83 L742.6 858.93 L743.64 859.98 L745.21 860.5 L745.74 860.5 L747.31 859.98 L748.36 858.93 L748.88 857.36 L748.88 856.83 L748.36 855.26 L747.31 854.21 L745.74 853.69 L745.21 853.69 L743.64 854.21 L742.6 855.26 L741.93 857.26M755.11 849.36 L753.12 850.02 L752.07 851.6 L751.54 854.21 L751.54 855.79 L752.07 858.4 L753.12 859.98 L754.69 860.5 L755.73 860.5 L757.31 859.98 L758.35 858.4 L758.88 855.79 L758.88 854.21 L758.35 851.6 L757.31 850.02 L755.73 849.5 L754.24 849.5M802.72 851.8 L804.17 851.07 L805.74 849.5 L805.74 860.95M814.59 849.36 L812.6 850.02 L812.07 851.07 L812.07 852.12 L812.6 853.17 L813.64 853.69 L815.74 854.21 L817.31 854.74 L818.36 855.79 L818.88 856.83 L818.88 858.4 L818.36 859.45 L817.83 859.98 L816.26 860.5 L814.17 860.5 L812.6 859.98 L812.07 859.45 L811.55 858.4 L811.55 856.83 L812.07 855.79 L813.12 854.74 L814.69 854.21 L816.79 853.69 L817.83 853.17 L818.36 852.12 L818.36 851.07 L817.83 850.02 L816.26 849.5 L813.72 849.5M825.11 849.36 L823.12 850.02 L822.07 851.6 L821.54 854.21 L821.54 855.79 L822.07 858.4 L823.12 859.98 L824.69 860.5 L825.73 860.5 L827.31 859.98 L828.35 858.4 L828.88 855.79 L828.88 854.21 L828.35 851.6 L827.31 850.02 L825.73 849.5 L824.24 849.5M163.74 833.36 L161.74 834.02 L160.69 835.6 L160.17 838.21 L160.17 839.79 L160.69 842.4 L161.74 843.98 L163.31 844.5 L164.36 844.5 L165.93 843.98 L166.98 842.4 L167.5 839.79 L167.5 838.21 L166.98 835.6 L165.93 834.02 L164.36 833.5 L162.86 833.5M150.69 766.57 L150.69 765.6 L151.22 764.55 L151.74 764.02 L152.79 763.5 L154.88 763.5 L155.93 764.02 L156.46 764.55 L156.98 765.6 L156.98 766.64 L156.46 767.69 L155.41 769.26 L150.17 774.5 L157.95 774.5M163.74 763.36 L161.74 764.02 L160.69 765.6 L160.17 768.21 L160.17 769.79 L160.69 772.4 L161.74 773.98 L163.31 774.5 L164.36 774.5 L165.93 773.98 L166.98 772.4 L167.5 769.79 L167.5 768.21 L166.98 765.6 L165.93 764.02 L164.36 763.5 L162.86 763.5M155.67 692.13 L150.17 699.83 L158.48 699.83M155.41 692.05 L155.41 703.95M163.74 692.36 L161.74 693.02 L160.69 694.6 L160.17 697.21 L160.17 698.79 L160.69 701.4 L161.74 702.98 L163.31 703.5 L164.36 703.5 L165.93 702.98 L166.98 701.4 L167.5 698.79 L167.5 697.21 L166.98 694.6 L165.93 693.02 L164.36 692.5 L162.86 692.5M157.18 623.47 L156.46 622.02 L154.88 621.5 L153.84 621.5 L152.27 622.02 L151.22 623.6 L150.69 626.21 L150.69 628.83 L151.22 630.93 L152.27 631.98 L153.84 632.5 L154.36 632.5 L155.93 631.98 L156.98 630.93 L157.5 629.36 L157.5 628.83 L156.98 627.26 L155.93 626.21 L154.36 625.69 L153.84 625.69 L152.27 626.21 L151.22 627.26 L150.55 629.26M163.74 621.36 L161.74 622.02 L160.69 623.6 L160.17 626.21 L160.17 627.79 L160.69 630.4 L161.74 631.98 L163.31 632.5 L164.36 632.5 L165.93 631.98 L166.98 630.4 L167.5 627.79 L167.5 626.21 L166.98 623.6 L165.93 622.02 L164.36 621.5 L162.86 621.5M153.22 551.36 L151.22 552.02 L150.69 553.07 L150.69 554.12 L151.22 555.17 L152.27 555.69 L154.36 556.21 L155.93 556.74 L156.98 557.79 L157.5 558.83 L157.5 560.4 L156.98 561.45 L156.46 561.98 L154.88 562.5 L152.79 562.5 L151.22 561.98 L150.69 561.45 L150.17 560.4 L150.17 558.83 L150.69 557.79 L151.74 556.74 L153.31 556.21 L155.41 555.69 L156.46 555.17 L156.98 554.12 L156.98 553.07 L156.46 552.02 L154.88 551.5 L152.34 551.5M163.74 551.36 L161.74 552.02 L160.69 553.6 L160.17 556.21 L160.17 557.79 L160.69 560.4 L161.74 561.98 L163.31 562.5 L164.36 562.5 L165.93 561.98 L166.98 560.4 L167.5 557.79 L167.5 556.21 L166.98 553.6 L165.93 552.02 L164.36 551.5 L162.86 551.5M141.34 482.8 L142.79 482.07 L144.36 480.5 L144.36 491.95M153.74 480.36 L151.74 481.02 L150.69 482.6 L150.17 485.21 L150.17 486.79 L150.69 489.4 L151.74 490.98 L153.31 491.5 L154.36 491.5 L155.93 490.98 L156.98 489.4 L157.5 486.79 L157.5 485.21 L156.98 482.6 L155.93 481.02 L154.36 480.5 L152.86 480.5M163.74 480.36 L161.74 481.02 L160.69 482.6 L160.17 485.21 L160.17 486.79 L160.69 489.4 L161.74 490.98 L163.31 491.5 L164.36 491.5 L165.93 490.98 L166.98 489.4 L167.5 486.79 L167.5 485.21 L166.98 482.6 L165.93 481.02 L164.36 480.5 L162.86 480.5M141.34 411.8 L142.79 411.07 L144.36 409.5 L144.36 420.95M150.69 412.57 L150.69 411.6 L151.22 410.55 L151.74 410.02 L152.79 409.5 L154.88 409.5 L155.93 410.02 L156.46 410.55 L156.98 411.6 L156.98 412.64 L156.46 413.69 L155.41 415.26 L150.17 420.5 L157.95 420.5M163.74 409.36 L161.74 410.02 L160.69 411.6 L160.17 414.21 L160.17 415.79 L160.69 418.4 L161.74 419.98 L163.31 420.5 L164.36 420.5 L165.93 419.98 L166.98 418.4 L167.5 415.79 L167.5 414.21 L166.98 411.6 L165.93 410.02 L164.36 409.5 L162.86 409.5M141.34 340.8 L142.79 340.07 L144.36 338.5 L144.36 349.95M155.67 338.13 L150.17 345.83 L158.48 345.83M155.41 338.05 L155.41 349.95M163.74 338.36 L161.74 339.02 L160.69 340.6 L160.17 343.21 L160.17 344.79 L160.69 347.4 L161.74 348.98 L163.31 349.5 L164.36 349.5 L165.93 348.98 L166.98 347.4 L167.5 344.79 L167.5 343.21 L166.98 340.6 L165.93 339.02 L164.36 338.5 L162.86 338.5M141.34 270.8 L142.79 270.07 L144.36 268.5 L144.36 279.95M157.18 270.47 L156.46 269.02 L154.88 268.5 L153.84 268.5 L152.27 269.02 L151.22 270.6 L150.69 273.21 L150.69 275.83 L151.22 277.93 L152.27 278.98 L153.84 279.5 L154.36 279.5 L155.93 278.98 L156.98 277.93 L157.5 276.36 L157.5 275.83 L156.98 274.26 L155.93 273.21 L154.36 272.69 L153.84 272.69 L152.27 273.21 L151.22 274.26 L150.55 276.26M163.74 268.36 L161.74 269.02 L160.69 270.6 L160.17 273.21 L160.17 274.79 L160.69 277.4 L161.74 278.98 L163.31 279.5 L164.36 279.5 L165.93 278.98 L166.98 277.4 L167.5 274.79 L167.5 273.21 L166.98 270.6 L165.93 269.02 L164.36 268.5 L162.86 268.5M141.34 199.8 L142.79 199.07 L144.36 197.5 L144.36 208.95M153.22 197.36 L151.22 198.02 L150.69 199.07 L150.69 200.12 L151.22 201.17 L152.27 201.69 L154.36 202.21 L155.93 202.74 L156.98 203.79 L157.5 204.83 L157.5 206.4 L156.98 207.45 L156.46 207.98 L154.88 208.5 L152.79 208.5 L151.22 207.98 L150.69 207.45 L150.17 206.4 L150.17 204.83 L150.69 203.79 L151.74 202.74 L153.31 202.21 L155.41 201.69 L156.46 201.17 L156.98 200.12 L156.98 199.07 L156.46 198.02 L154.88 197.5 L152.34 197.5M163.74 197.36 L161.74 198.02 L160.69 199.6 L160.17 202.21 L160.17 203.79 L160.69 206.4 L161.74 207.98 L163.31 208.5 L164.36 208.5 L165.93 207.98 L166.98 206.4 L167.5 203.79 L167.5 202.21 L166.98 199.6 L165.93 198.02 L164.36 197.5 L162.86 197.5M867.1 178.99 L868.64 178.21 L870.36 176.5 L870.36 188.95M884.97 176.5 L878.81 176.5 L878.24 181.64 L878.81 181.07 L880.52 180.5 L882.24 180.5 L883.95 181.07 L885.09 182.21 L885.66 183.93 L885.66 185.07 L885.09 186.79 L883.95 187.93 L882.24 188.5 L880.52 188.5 L878.81 187.93 L878.24 187.36 L877.46 185.81M893.4 176.36 L891.26 177.07 L890.11 178.79 L889.54 181.64 L889.54 183.36 L890.11 186.21 L891.26 187.93 L892.97 188.5 L894.11 188.5 L895.83 187.93 L896.97 186.21 L897.54 183.36 L897.54 181.64 L896.97 178.79 L895.83 177.07 L894.11 176.5 L892.52 176.5M867.1 217.99 L868.64 217.21 L870.36 215.5 L870.36 227.95M883.64 215.13 L877.66 223.5 L886.69 223.5M883.38 215.05 L883.38 227.95M893.4 215.36 L891.26 216.07 L890.11 217.79 L889.54 220.64 L889.54 222.36 L890.11 225.21 L891.26 226.93 L892.97 227.5 L894.11 227.5 L895.83 226.93 L896.97 225.21 L897.54 222.36 L897.54 220.64 L896.97 217.79 L895.83 216.07 L894.11 215.5 L892.52 215.5M867.1 302.99 L868.64 302.21 L870.36 300.5 L870.36 312.95M878.24 303.81 L878.24 302.79 L878.81 301.64 L879.38 301.07 L880.52 300.5 L882.81 300.5 L883.95 301.07 L884.52 301.64 L885.09 302.79 L885.09 303.93 L884.52 305.07 L883.38 306.79 L877.66 312.5 L886.11 312.5M893.4 300.36 L891.26 301.07 L890.11 302.79 L889.54 305.64 L889.54 307.36 L890.11 310.21 L891.26 311.93 L892.97 312.5 L894.11 312.5 L895.83 311.93 L896.97 310.21 L897.54 307.36 L897.54 305.64 L896.97 302.79 L895.83 301.07 L894.11 300.5 L892.52 300.5M867.1 388.99 L868.64 388.21 L870.36 386.5 L870.36 398.95M881.52 386.36 L879.38 387.07 L878.24 388.79 L877.66 391.64 L877.66 393.36 L878.24 396.21 L879.38 397.93 L881.09 398.5 L882.24 398.5 L883.95 397.93 L885.09 396.21 L885.66 393.36 L885.66 391.64 L885.09 388.79 L883.95 387.07 L882.24 386.5 L880.64 386.5M893.4 386.36 L891.26 387.07 L890.11 388.79 L889.54 391.64 L889.54 393.36 L890.11 396.21 L891.26 397.93 L892.97 398.5 L894.11 398.5 L895.83 397.93 L896.97 396.21 L897.54 393.36 L897.54 391.64 L896.97 388.79 L895.83 387.07 L894.11 386.5 L892.52 386.5M870.78 471.36 L868.64 472.07 L868.07 473.21 L868.07 474.36 L868.64 475.5 L869.79 476.07 L872.07 476.64 L873.79 477.21 L874.93 478.36 L875.5 479.5 L875.5 481.21 L874.93 482.36 L874.36 482.93 L872.64 483.5 L870.36 483.5 L868.64 482.93 L868.07 482.36 L867.5 481.21 L867.5 479.5 L868.07 478.36 L869.21 477.21 L870.93 476.64 L873.21 476.07 L874.36 475.5 L874.93 474.36 L874.93 473.21 L874.36 472.07 L872.64 471.5 L869.91 471.5M883.23 471.36 L881.09 472.07 L879.95 473.79 L879.38 476.64 L879.38 478.36 L879.95 481.21 L881.09 482.93 L882.81 483.5 L883.95 483.5 L885.66 482.93 L886.81 481.21 L887.38 478.36 L887.38 476.64 L886.81 473.79 L885.66 472.07 L883.95 471.5 L882.36 471.5M874.56 558.62 L873.79 557.07 L872.07 556.5 L870.93 556.5 L869.21 557.07 L868.07 558.79 L867.5 561.64 L867.5 564.5 L868.07 566.79 L869.21 567.93 L870.93 568.5 L871.5 568.5 L873.21 567.93 L874.36 566.79 L874.93 565.07 L874.93 564.5 L874.36 562.79 L873.21 561.64 L871.5 561.07 L870.93 561.07 L869.21 561.64 L868.07 562.79 L867.36 564.93M882.66 556.36 L880.52 557.07 L879.38 558.79 L878.81 561.64 L878.81 563.36 L879.38 566.21 L880.52 567.93 L882.24 568.5 L883.38 568.5 L885.09 567.93 L886.24 566.21 L886.81 563.36 L886.81 561.64 L886.24 558.79 L885.09 557.07 L883.38 556.5 L881.79 556.5M873.48 641.13 L867.5 649.5 L876.52 649.5M873.21 641.05 L873.21 653.95M883.23 641.36 L881.09 642.07 L879.95 643.79 L879.38 646.64 L879.38 648.36 L879.95 651.21 L881.09 652.93 L882.81 653.5 L883.95 653.5 L885.66 652.93 L886.81 651.21 L887.38 648.36 L887.38 646.64 L886.81 643.79 L885.66 642.07 L883.95 641.5 L882.36 641.5M868.07 729.81 L868.07 728.79 L868.64 727.64 L869.21 727.07 L870.36 726.5 L872.64 726.5 L873.79 727.07 L874.36 727.64 L874.93 728.79 L874.93 729.93 L874.36 731.07 L873.21 732.79 L867.5 738.5 L875.95 738.5M883.23 726.36 L881.09 727.07 L879.95 728.79 L879.38 731.64 L879.38 733.36 L879.95 736.21 L881.09 737.93 L882.81 738.5 L883.95 738.5 L885.66 737.93 L886.81 736.21 L887.38 733.36 L887.38 731.64 L886.81 728.79 L885.66 727.07 L883.95 726.5 L882.36 726.5M871.36 811.36 L869.21 812.07 L868.07 813.79 L867.5 816.64 L867.5 818.36 L868.07 821.21 L869.21 822.93 L870.93 823.5 L872.07 823.5 L873.79 822.93 L874.93 821.21 L875.5 818.36 L875.5 816.64 L874.93 813.79 L873.79 812.07 L872.07 811.5 L870.48 811.5M889.4 811.36 L887.26 812.07 L886.11 813.79 L885.54 816.64 L885.54 818.36 L886.11 821.21 L887.26 822.93 L888.97 823.5 L890.11 823.5 L891.83 822.93 L892.97 821.21 L893.54 818.36 L893.54 816.64 L892.97 813.79 L891.83 812.07 L890.11 811.5 L888.52 811.5" fill="none" stroke="#000" stroke-width="0.99"/>
<g fill="#000"><rect x="319" y="143" width="2" height="1"/><rect x="320" y="144" width="1" height="1"/><rect x="319" y="149" width="2" height="1"/><rect x="320" y="150" width="1" height="1"/><rect x="636" y="143" width="2" height="1"/><rect x="637" y="144" width="1" height="1"/><rect x="636" y="149" width="2" height="1"/><rect x="637" y="150" width="1" height="1"/><rect x="664" y="143" width="2" height="1"/><rect x="665" y="144" width="1" height="1"/><rect x="664" y="149" width="2" height="1"/><rect x="665" y="150" width="1" height="1"/><rect x="714" y="37" width="2" height="1"/><rect x="715" y="38" width="1" height="1"/><rect x="491" y="120" width="2" height="1"/><rect x="492" y="121" width="1" height="1"/><rect x="575" y="149" width="2" height="1"/><rect x="576" y="150" width="1" height="1"/><rect x="189" y="889" width="2" height="1"/><rect x="190" y="890" width="1" height="1"/><rect x="734" y="889" width="2" height="1"/><rect x="735" y="890" width="1" height="1"/><rect x="833" y="889" width="2" height="1"/><rect x="834" y="890" width="1" height="1"/><rect x="902" y="187" width="2" height="1"/><rect x="903" y="188" width="1" height="1"/><rect x="902" y="226" width="2" height="1"/><rect x="903" y="227" width="1" height="1"/><rect x="902" y="311" width="2" height="1"/><rect x="903" y="312" width="1" height="1"/><rect x="902" y="397" width="2" height="1"/><rect x="903" y="398" width="1" height="1"/><rect x="891" y="482" width="2" height="1"/><rect x="892" y="483" width="1" height="1"/><rect x="891" y="567" width="2" height="1"/><rect x="892" y="568" width="1" height="1"/><rect x="891" y="652" width="2" height="1"/><rect x="892" y="653" width="1" height="1"/><rect x="891" y="737" width="2" height="1"/><rect x="892" y="738" width="1" height="1"/><rect x="880" y="822" width="2" height="1"/><rect x="881" y="823" width="1" height="1"/></g>
</svg>
</body></html>
